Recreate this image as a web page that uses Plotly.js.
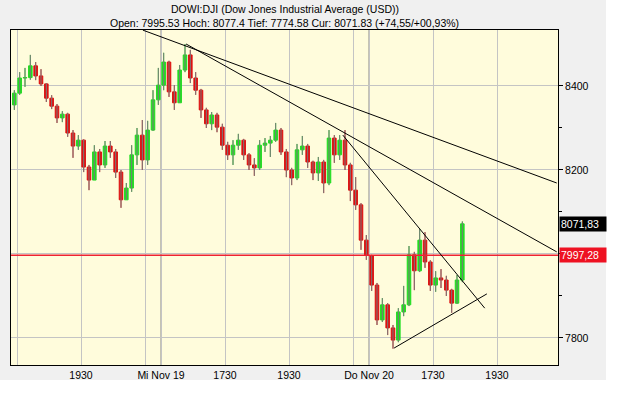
<!DOCTYPE html>
<html>
<head>
<meta charset="utf-8">
<script src="https://cdn.plot.ly/plotly-3.0.1.min.js"></script>
<style>html,body{margin:0;padding:0;background:#fff;}#chart{width:640px;height:400px;}</style>
</head>
<body>
<div id="chart"></div>
<script>
// ---- data (10-minute candles) ----
const sessionDays = ['Nov 18', 'Nov 19', 'Nov 20'];
const firstBar = ['17:20', '15:30', '15:30'];
const barMinutes = 10;

const open18  = [8355, 8383, 8419, 8420, 8448, 8424, 8405, 8371, 8352, 8324, 8333, 8288, 8257, 8271, 8207, 8176, 8243, 8212, 8257, 8243, 8195, 8129, 8157, 8236, 8283, 8224, 8295, 8367];
const high18  = [8390, 8433, 8443, 8474, 8457, 8440, 8407, 8378, 8357, 8340, 8336, 8295, 8283, 8273, 8212, 8259, 8250, 8269, 8269, 8250, 8200, 8169, 8259, 8300, 8319, 8317, 8390, 8443];
const low18   = [8343, 8379, 8398, 8415, 8414, 8400, 8362, 8345, 8312, 8314, 8279, 8229, 8248, 8195, 8152, 8176, 8195, 8205, 8229, 8181, 8110, 8129, 8148, 8212, 8200, 8212, 8293, 8355];
const close18 = [8383, 8419, 8420, 8448, 8424, 8405, 8371, 8352, 8324, 8333, 8288, 8257, 8271, 8207, 8176, 8243, 8212, 8257, 8243, 8195, 8129, 8157, 8236, 8283, 8224, 8295, 8367, 8402];

const open19  = [8402, 8457, 8386, 8360, 8438, 8474, 8419, 8390, 8343, 8310, 8331, 8302, 8259, 8236, 8259, 8271, 8236, 8212, 8205, 8259, 8264, 8271, 8295, 8243, 8200, 8181, 8248, 8257, 8219, 8193, 8219, 8169, 8276, 8236, 8271, 8212, 8152, 8117, 8033];
const high19  = [8479, 8460, 8402, 8450, 8500, 8486, 8433, 8393, 8348, 8338, 8336, 8310, 8267, 8271, 8286, 8274, 8240, 8228, 8271, 8276, 8281, 8312, 8300, 8250, 8205, 8262, 8281, 8262, 8222, 8231, 8224, 8295, 8283, 8283, 8295, 8217, 8183, 8121, 8045];
const low19   = [8390, 8374, 8343, 8360, 8433, 8407, 8379, 8324, 8300, 8295, 8290, 8248, 8224, 8212, 8248, 8224, 8200, 8186, 8200, 8243, 8231, 8267, 8236, 8183, 8164, 8176, 8236, 8205, 8176, 8174, 8145, 8164, 8217, 8224, 8200, 8126, 8105, 8010, 7986];
const close19 = [8457, 8386, 8360, 8438, 8474, 8419, 8390, 8343, 8310, 8331, 8302, 8259, 8236, 8259, 8271, 8236, 8212, 8205, 8259, 8264, 8271, 8295, 8243, 8200, 8181, 8248, 8257, 8219, 8193, 8219, 8169, 8276, 8236, 8271, 8212, 8152, 8117, 8033, 7997.28];

const open20  = [7995.53, 7926, 7843, 7879, 7824, 7795, 7862, 7879, 7998, 7960, 8033, 7981, 7926, 7943, 7938, 7914, 7883, 7938];
const high20  = [7998, 7931, 7895, 7883, 7831, 7871, 7924, 8019, 8005, 8060, 8052, 7985, 7959, 7964, 7948, 7917, 7950, 8077.4];
const low20   = [7912, 7831, 7838, 7807, 7774.58, 7790, 7852, 7876, 7914, 7957, 7967, 7912, 7910, 7919, 7900, 7860, 7881, 7933];
const close20 = [7926, 7843, 7879, 7824, 7795, 7862, 7879, 7998, 7960, 8033, 7981, 7926, 7943, 7938, 7914, 7883, 7938, 8071.83];

const prevClose = 7997.28;
const lastPrice = 8071.83;

const titleLine1 = 'DOWI:DJI (Dow Jones Industrial Average (USD))';
const titleLine2 = 'Open: 7995.53 Hoch: 8077.4 Tief: 7774.58 Cur: 8071.83 (+74,55/+00,93%)';

// trend lines: [day index, time, price] -> [day index, time, price]
const trendStart = [[0, '21:26', 8533], [1, '16:17', 8500], [1, '21:11', 8283], [2, '16:17', 7776]];
const trendEnd   = [[2, '21:22', 8169], [2, '21:22', 8005], [2, '19:07', 7871], [2, '19:11', 7905]];

// axis ticks (trading-time axis: each session 15:30-22:00)
const tickTimes  = [[0,'17:30'], [0,'19:30'], [0,'21:30'], [1,'15:30'], [1,'17:30'], [1,'19:30'], [1,'21:30'], [2,'15:30'], [2,'17:30'], [2,'19:30']];
const tickLabels = ['', '1930', '', 'Mi Nov 19', '1730', '1930', '', 'Do Nov 20', '1730', '1930'];
const dayStartTicks = [[1,'15:30'], [2,'15:30']];
const yTicks = [7800, 8000, 8200, 8400];
const yTickLabels = ['7800', '', '8200', '8400'];
const yMinor = [7900, 8100, 8300];

// ---- mapping: session time -> trading hours on the axis ----
const SESSION_LEN = 6.5;
function toT(day, hhmm) {
  const [h, m] = hhmm.split(':').map(Number);
  return day * SESSION_LEN + (h + m / 60 - 15.5);
}

const O = [], H = [], L = [], C = [], X = [];
[[open18, high18, low18, close18], [open19, high19, low19, close19], [open20, high20, low20, close20]].forEach((d, di) => {
  const t0 = toT(di, firstBar[di]);
  d[0].forEach((v, j) => {
    X.push(t0 + (j + 0.5) * barMinutes / 60);
    O.push(d[0][j]); H.push(d[1][j]); L.push(d[2][j]); C.push(d[3][j]);
  });
});

const wx = [], wy = [];
X.forEach((x, i) => { wx.push(x, x, null); wy.push(L[i], H[i], null); });

const FONT = 'Liberation Sans, Arial, sans-serif';

const traces = [
  { type: 'candlestick', x: X, open: O, high: H, low: L, close: C,
    increasing: { fillcolor: '#22dd22', line: { color: '#22dd22', width: 1 } },
    decreasing: { fillcolor: '#dd1111', line: { color: '#dd1111', width: 1 } },
    whiskerwidth: 0, hoverinfo: 'skip', showlegend: false },
  { type: 'scatter', mode: 'lines', x: wx, y: wy, line: { color: '#7a7a7a', width: 1 }, hoverinfo: 'skip', showlegend: false }
];

const shapes = [];
dayStartTicks.forEach(d => {
  const t = toT(d[0], d[1]);
  shapes.push({ type: 'line', xref: 'x', yref: 'paper', x0: t, x1: t, y0: 0, y1: 1, layer: 'below', line: { color: '#8a8a8a', width: 1 } });
});
shapes.push({ type: 'line', xref: 'paper', yref: 'y', x0: 0, x1: 1, y0: prevClose, y1: prevClose, line: { color: '#ee2233', width: 1.5 } });
trendStart.forEach((s, i) => {
  const e = trendEnd[i];
  shapes.push({ type: 'line', xref: 'x', yref: 'y', x0: toT(s[0], s[1]), y0: s[2], x1: toT(e[0], e[1]), y1: e[2], line: { color: '#000', width: 1 } });
});
// white outside of the grey panel
shapes.push({ type: 'rect', xref: 'paper', yref: 'paper', x0: (606 - 11) / 547, x1: 1.3, y0: -0.2, y1: 1.2, fillcolor: '#fff', line: { width: 0 }, layer: 'above' });
shapes.push({ type: 'rect', xref: 'paper', yref: 'paper', x0: -0.1, x1: 1.3, y0: -0.2, y1: (365 - 380) / 335, fillcolor: '#fff', line: { width: 0 }, layer: 'above' });

const fmt = v => v.toFixed(2).replace('.', ',');

const annotations = [
  { xref: 'paper', yref: 'paper', x: 0.5, y: (365 - 9) / 335, xanchor: 'center', yanchor: 'middle', text: titleLine1, showarrow: false,
    font: { color: '#000', size: 10.5, family: FONT } },
  { xref: 'paper', yref: 'paper', x: 0.5, y: (365 - 23) / 335, xanchor: 'center', yanchor: 'middle', text: titleLine2, showarrow: false,
    font: { color: '#000', size: 10.5, family: FONT } },
  { xref: 'paper', yref: 'y', x: 1, y: lastPrice, xanchor: 'left', yanchor: 'middle', xshift: 1, text: fmt(lastPrice), showarrow: false,
    bgcolor: '#000', font: { color: '#fff', size: 10.5, family: FONT }, width: 44, height: 12, borderpad: 1, align: 'left' },
  { xref: 'paper', yref: 'y', x: 1, y: prevClose, xanchor: 'left', yanchor: 'middle', xshift: 1, text: fmt(prevClose), showarrow: false,
    bgcolor: '#ee1122', font: { color: '#fff', size: 10.5, family: FONT }, width: 44, height: 12, borderpad: 1, align: 'left' }
];

const layout = {
  width: 640, height: 400,
  margin: { l: 11, r: 82, t: 30, b: 35, pad: 0 },
  paper_bgcolor: '#f0f0f0', plot_bgcolor: '#fffcdc',
  font: { family: FONT, size: 10.5, color: '#000' },
  boxgap: 0.05,
  showlegend: false,
  xaxis: {
    range: [1.8125, 18.906], tickvals: tickTimes.map(t => toT(t[0], t[1])), ticktext: tickLabels,
    showgrid: true, gridcolor: '#c4c4c4', gridwidth: 1, zeroline: false,
    showline: true, linecolor: '#000', linewidth: 1, mirror: true, ticks: '',
    rangeslider: { visible: false }, fixedrange: true
  },
  yaxis: {
    side: 'right', range: [7735.7, 8533.3], tickvals: yTicks, ticktext: yTickLabels,
    showgrid: true, gridcolor: '#c4c4c4', gridwidth: 1, zeroline: false,
    showline: true, linecolor: '#000', linewidth: 1, mirror: true,
    ticks: 'outside', ticklen: 4, tickcolor: '#000',
    minor: { tickvals: yMinor, ticks: 'outside', ticklen: 3, tickcolor: '#000', showgrid: false },
    fixedrange: true
  },
  shapes: shapes, annotations: annotations
};

Plotly.newPlot('chart', traces, layout, { staticPlot: true, displayModeBar: false });
</script>
</body>
</html>
